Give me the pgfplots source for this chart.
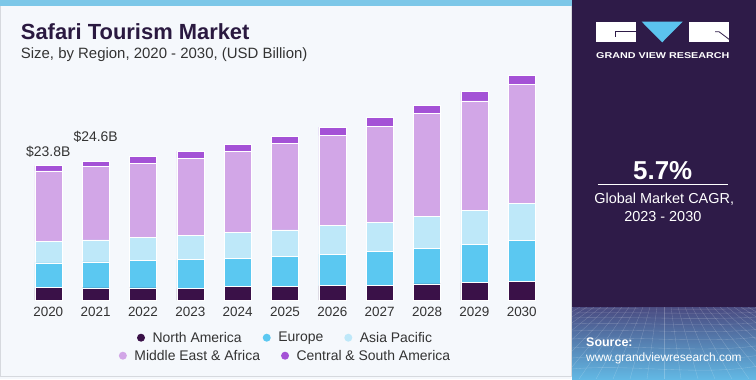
\documentclass[border=0pt]{standalone}
\usepackage{pgfplots}
\pgfplotsset{compat=1.18}
\usepackage{pgfplotstable}
\usepackage{graphicx}
\usepackage{fontspec}
\setmainfont{Liberation Sans}
\definecolor{nac}{HTML}{3A1148}
\definecolor{euc}{HTML}{5BC8F1}
\definecolor{apc}{HTML}{BEE8F9}
\definecolor{meac}{HTML}{D2A6E7}
\definecolor{csac}{HTML}{A452D6}
\definecolor{bgc}{HTML}{F5F8FC}
\definecolor{stripe}{HTML}{7CC7E8}
\definecolor{panel}{HTML}{2E1B48}
\definecolor{titlec}{HTML}{2A1940}
\definecolor{labc}{HTML}{333333}
\definecolor{borderc}{HTML}{D6D9DE}
\definecolor{meshA}{HTML}{4A4A80}
\definecolor{meshB}{HTML}{4B78AE}
\definecolor{meshC}{HTML}{62B8E4}
\definecolor{trib}{HTML}{5BC3EE}

\pgfplotstableread{
x na eu ap mea csa
0 2.18 4.38 3.78 12.53 0.94
1 2.13 4.61 3.90 13.02 0.94
2 2.13 4.84 4.08 13.17 1.24
3 2.00 5.26 4.25 13.64 1.24
4 2.43 5.01 4.55 14.35 1.18
5 2.36 5.32 4.73 15.36 1.18
6 2.54 5.61 5.02 15.95 1.54
7 2.54 6.14 5.08 17.07 1.48
8 2.84 6.26 5.73 18.19 1.42
9 3.13 6.67 6.14 19.37 1.65
10 3.31 7.20 6.61 21.03 1.71
}\datatable

\pgfplotsset{
  dotlegend/.style={legend image code/.code={
      \fill[draw=none] (0bp,0bp) circle (4bp);
      \path[draw=none, fill=none] (-4bp,-4bp) rectangle (10.6bp,4bp);}},
  gvrlegend/.style={legend style={draw=none, fill=none,
      font=\fontsize{14}{16}\selectfont, text=labc,
      legend columns=-1,
      /tikz/every even column/.append style={column sep=20bp},
      nodes={inner sep=1bp}}}
}

\begin{document}
\begin{tikzpicture}[x=1bp,y=1bp]
% backgrounds
\fill[bgc] (0,0) rectangle (572,379);
\fill[stripe] (0,373) rectangle (572,379);
\draw[borderc, line width=0.8bp] (0.5,2.3) -- (571,2.3);
\draw[borderc, line width=0.8bp] (0.5,2.3) -- (0.5,373);
\draw[borderc, line width=0.8bp] (571.3,2.3) -- (571.3,373);
\fill[panel] (572,0) rectangle (756,379);
\shade[top color=meshA, middle color=meshB, bottom color=meshC] (572,0) rectangle (756,72);
\begin{scope}
\clip (572,0) rectangle (756,72);
\foreach \y/\d in {70/1,66/2,61/3,55/4,48/5,40/6,31/7,21/8,10/9}
  \draw[white, opacity=0.22, line width=0.35bp] (572,\y) .. controls (630,\y+\d*0.6) and (700,\y-\d*0.8) .. (756,\y+\d*0.3);
\foreach \k in {-14,...,14}
  \draw[white, opacity=0.22, line width=0.35bp] (664+\k*7,72) -- (664+\k*17,0);
\end{scope}

% logo
\fill[white] (596,379-21.7) rectangle (635.7,379-42.3);
\draw[panel, line width=0.8bp] (635.7,379-31.7) -- (615,379-31.7) -- (615,379-36.7);
\fill[trib] (641.7,379-21.7) -- (682.7,379-21.7) -- (662.2,379-42.3) -- cycle;
\fill[white] (689,379-21.7) rectangle (729.3,379-42.3);
\draw[panel, line width=0.8bp] (715,379-31.7) -- (719,379-31.7) -- (729.3,379-39.5);
\node[white, inner sep=0, anchor=center] at (662.8,379-55.3)
  {\scalebox{1.27}[1]{\fontsize{8.5}{10}\selectfont\bfseries GRAND VIEW RESEARCH}};

% right panel text
\node[white, inner sep=0, anchor=center] at (662.7,379-170.7)
  {\fontsize{26}{30}\selectfont\bfseries 5.7\%};
\draw[white, line width=0.8bp] (597.7,379-184.3) -- (727.7,379-184.3);
\node[white, inner sep=0, anchor=center] at (664.2,379-199)
  {\fontsize{14.5}{17}\selectfont Global Market CAGR,};
\node[white, inner sep=0, anchor=center] at (662.8,379-216.7)
  {\fontsize{14.5}{17}\selectfont 2023 - 2030};
\node[white, inner sep=0, anchor=base west] at (586,379-346)
  {\fontsize{12.5}{14}\selectfont\bfseries Source:};
\node[white, inner sep=0, anchor=base west] at (586,379-361)
  {\fontsize{12}{14}\selectfont www.grandviewresearch.com};

% title
\node[titlec, inner sep=0, anchor=base west] at (20.7,379-39)
  {\fontsize{22}{26}\selectfont\bfseries Safari Tourism Market};
\node[labc, inner sep=0, anchor=base west] at (20.7,379-58.3)
  {\fontsize{15}{18}\selectfont Size, by Region, 2020 - 2030, (USD Billion)};

\begin{axis}[
  at={(24.6bp,79bp)}, anchor=south west, scale only axis,
  width=520.8bp, height=253.9bp,
  xmin=-0.5, xmax=10.5, ymin=0, ymax=45,
  ybar stacked, bar width=27bp,
  axis line style={draw=none}, major tick style={draw=none},
  ytick=\empty,
  xtick={0,1,2,3,4,5,6,7,8,9,10},
  xticklabels={2020,2021,2022,2023,2024,2025,2026,2027,2028,2029,2030},
  xticklabel style={font=\fontsize{13.5}{16}\selectfont, text=labc, anchor=center, yshift=-12bp},
  clip=false,
  gvrlegend,
  legend style={at={(axis description cs:0.5,-0.1485)}, anchor=center},
  every axis plot/.append style={draw=white, line width=0.5bp},
]
\addplot[fill=nac, dotlegend] table[x=x, y=na] {\datatable};
\addplot[fill=euc, dotlegend] table[x=x, y=eu] {\datatable};
\addplot[fill=apc, dotlegend] table[x=x, y=ap] {\datatable};
\addplot[fill=meac, dotlegend] table[x=x, y=mea] {\datatable};
\addplot[fill=csac, dotlegend] table[x=x, y=csa] {\datatable};
\legend{North America, Europe, Asia Pacific}
\node[labc, inner sep=0, anchor=center, font=\fontsize{14}{16}\selectfont] at (axis cs:0,26.3) {\$23.8B};
\node[labc, inner sep=0, anchor=center, font=\fontsize{14}{16}\selectfont] at (axis cs:1,28.9) {\$24.6B};
\end{axis}

\begin{axis}[
  at={(24.6bp,79bp)}, anchor=south west, scale only axis,
  width=520.8bp, height=253.9bp,
  xmin=-0.5, xmax=10.5, ymin=0, ymax=45,
  hide axis,
  gvrlegend,
  legend style={at={(axis description cs:0.5,-0.2194)}, anchor=center},
]
\addlegendimage{fill=meac, dotlegend}
\addlegendimage{fill=csac, dotlegend}
\legend{Middle East \& Africa, Central \& South America}
\end{axis}
\useasboundingbox (0,0) rectangle (756,379);
\end{tikzpicture}
\end{document}
